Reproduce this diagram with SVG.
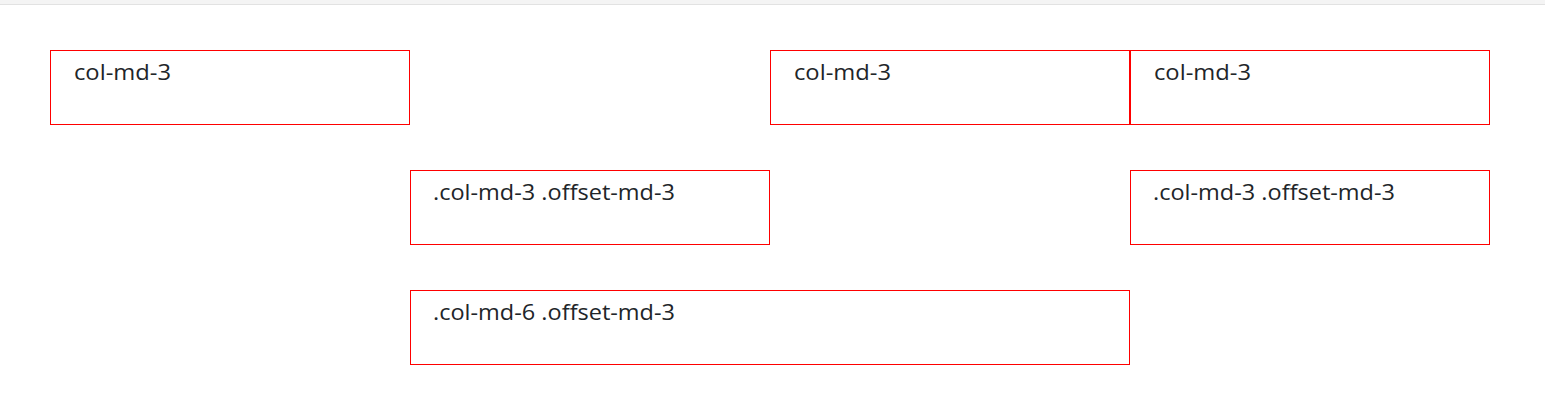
<svg xmlns="http://www.w3.org/2000/svg" width="1545" height="417" viewBox="0 0 1545 417">
<style>
.box{fill:#fff;stroke:#ff0000;stroke-width:1}
.lbl{font-family:"Open Sans","Noto Sans","Liberation Sans",sans-serif;font-size:22px;fill:#212529}
</style>
<rect x="0" y="0" width="1545" height="417" fill="#fff"/>
<rect x="0" y="0" width="1545" height="4" fill="#f4f4f4"/>
<line x1="0" y1="4.5" x2="1545" y2="4.5" stroke="#e2e2e2" stroke-width="1"/>
<g id="node1"><rect class="box" x="50.5" y="50.5" width="359" height="74"/><text class="lbl" x="74" y="80" textLength="97" lengthAdjust="spacingAndGlyphs">col-md-3</text></g>
<g id="node2"><rect class="box" x="770.5" y="50.5" width="359" height="74"/><text class="lbl" x="794" y="80" textLength="97" lengthAdjust="spacingAndGlyphs">col-md-3</text></g>
<g id="node3"><rect class="box" x="1130.5" y="50.5" width="359" height="74"/><text class="lbl" x="1154" y="80" textLength="97" lengthAdjust="spacingAndGlyphs">col-md-3</text></g>
<g id="node4"><rect class="box" x="410.5" y="170.5" width="359" height="74"/><text class="lbl" x="433" y="200" textLength="242" lengthAdjust="spacingAndGlyphs">.col-md-3 .offset-md-3</text></g>
<g id="node5"><rect class="box" x="1130.5" y="170.5" width="359" height="74"/><text class="lbl" x="1153" y="200" textLength="242" lengthAdjust="spacingAndGlyphs">.col-md-3 .offset-md-3</text></g>
<g id="node6"><rect class="box" x="410.5" y="290.5" width="719" height="74"/><text class="lbl" x="433" y="320" textLength="242" lengthAdjust="spacingAndGlyphs">.col-md-6 .offset-md-3</text></g>
<g id="connectors"></g>
</svg>
